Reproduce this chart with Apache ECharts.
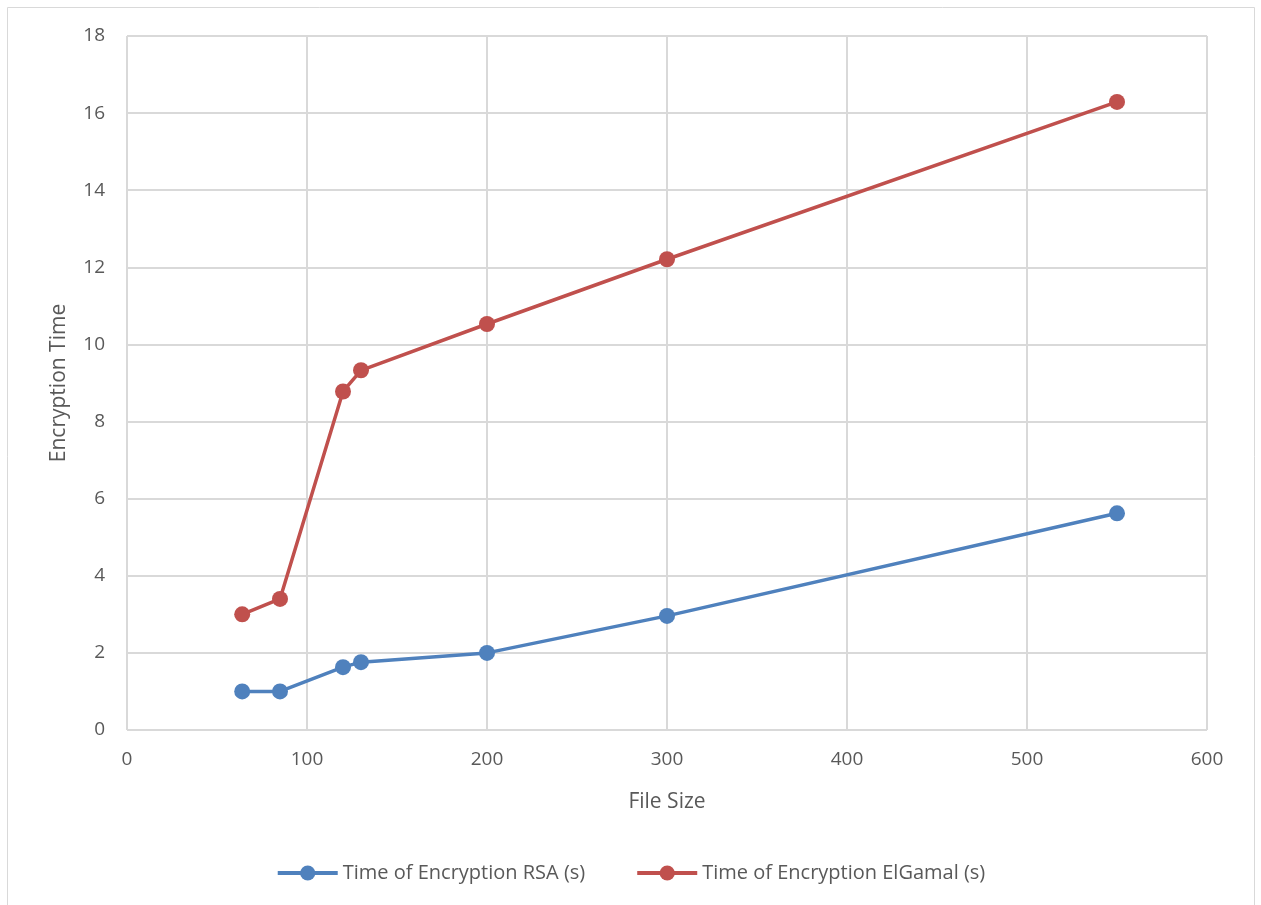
<!DOCTYPE html>
<html><head><meta charset="utf-8">
<script src="https://cdn.jsdelivr.net/npm/echarts@6/dist/echarts.min.js"></script>
<style>html,body{margin:0;padding:0;background:#fff}#c{width:1261px;height:905px}</style>
</head><body><div id="c"></div>
<script>
const fileSizes = [64, 85, 120, 130, 200, 300, 550];
const rsaTimes = [1.0, 1.0, 1.63, 1.76, 2.0, 2.96, 5.62];
const elgamalTimes = [3.0, 3.4, 8.78, 9.33, 10.53, 12.21, 16.29];
const seriesNames = ['Time of Encryption RSA (s)', 'Time of Encryption ElGamal (s)'];

const chart = echarts.init(document.getElementById('c'));
const font = '"Open Sans", "Liberation Sans", sans-serif';
const pair = (xs, ys) => xs.map((x, i) => [x, ys[i]]);
chart.setOption({
  animation: false,
  textStyle: {fontFamily: font},
  graphic: [{type: 'rect', shape: {x: 7.5, y: 7.5, width: 1247, height: 905}, style: {fill: 'none', stroke: '#d9d9d9', lineWidth: 1}}],
  grid: {left: 127, right: 54, top: 36, bottom: 175},
  legend: {
    bottom: 17, left: 'center', itemWidth: 60, itemHeight: 19, itemGap: 50,
    lineStyle: {width: 4},
    textStyle: {fontSize: 20, color: '#595959', fontFamily: font},
    data: seriesNames
  },
  xAxis: {
    type: 'value', min: 0, max: 600, interval: 100,
    name: 'File Size', nameLocation: 'middle', nameGap: 62,
    nameTextStyle: {fontSize: 21, color: '#595959'},
    axisLine: {show: false}, axisTick: {show: false},
    axisLabel: {fontSize: 19, color: '#595959', margin: 20},
    splitLine: {lineStyle: {color: '#d9d9d9', width: 2}}
  },
  yAxis: {
    type: 'value', min: 0, max: 18, interval: 2,
    name: 'Encryption Time', nameLocation: 'middle', nameGap: 57,
    nameTextStyle: {fontSize: 21, color: '#595959'},
    axisLine: {show: false}, axisTick: {show: false},
    axisLabel: {fontSize: 19, color: '#595959', margin: 22},
    splitLine: {lineStyle: {color: '#d9d9d9', width: 2}}
  },
  series: [
    {name: seriesNames[0], type: 'line', data: pair(fileSizes, rsaTimes), symbol: 'circle', symbolSize: 16,
     lineStyle: {color: '#4f81bd', width: 3.5}, itemStyle: {color: '#4f81bd'}},
    {name: seriesNames[1], type: 'line', data: pair(fileSizes, elgamalTimes), symbol: 'circle', symbolSize: 16,
     lineStyle: {color: '#c0504d', width: 3.5}, itemStyle: {color: '#c0504d'}}
  ]
});
</script></body></html>
